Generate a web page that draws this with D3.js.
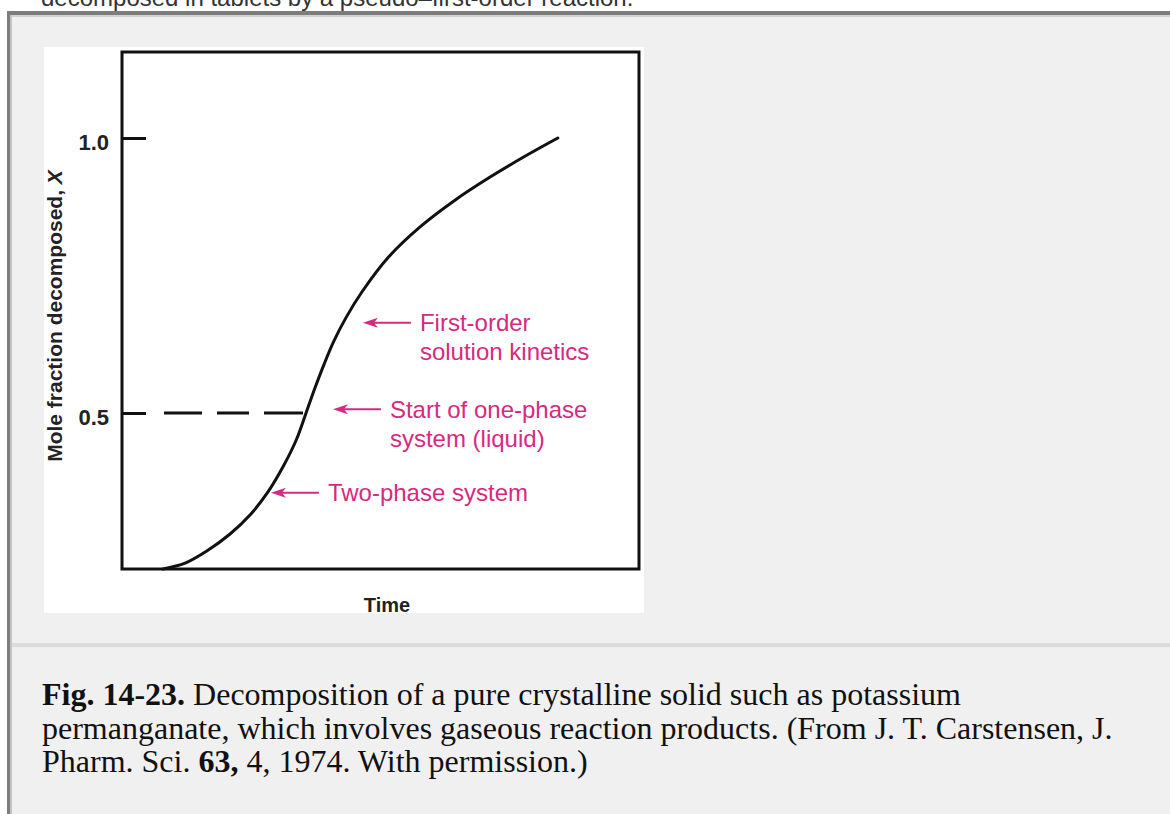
<!DOCTYPE html>
<html>
<head>
<meta charset="utf-8">
<script src="https://cdn.jsdelivr.net/npm/d3@7"></script>
<style>
  html, body { margin: 0; padding: 0; background: #ffffff; }
  svg { display: block; }
</style>
</head>
<body>
<svg id="page" width="1170" height="814"></svg>
<script>
// ---- data ----------------------------------------------------------------
// S-shaped decomposition curve: time (arbitrary units) vs mole fraction decomposed
const timeValues     = [7.9, 12.2, 16.4, 20.9, 24.8, 28.2, 31.3, 33.7, 35.6, 37.3, 39.1, 41.0, 43.3, 46.4, 51.6, 57.6, 64.4, 71.2, 77.6, 84.3];
const fractionValues = [0.2164, 0.227, 0.249, 0.280, 0.315, 0.356, 0.405, 0.451, 0.500, 0.545, 0.589, 0.631, 0.673, 0.720, 0.784, 0.838, 0.887, 0.929, 0.965, 1.000];

const yTickValues = [0.5, 1.0];
const yTickLabels = ["0.5", "1.0"];
const phaseBoundary = 0.5;   // dashed reference level

const noteLines = [["First-order", "solution kinetics"], ["Start of one-phase", "system (liquid)"], ["Two-phase system"]];
const noteTimes = [46.6, 40.8, 28.8];
const noteFractions = [0.664, 0.507, 0.355];

const xTitle = "Time";
const yTitle = "Mole fraction decomposed, ";
const yTitleVar = "X";

const headerText = "decomposed in tablets by a pseudo\u2013first-order reaction.";
const captionLines = [
  [{t: "Fig. 14-23.", b: true}, {t: " Decomposition of a pure crystalline solid such as potassium"}],
  [{t: "permanganate, which involves gaseous reaction products. (From J. T. Carstensen, J."}],
  [{t: "Pharm. Sci. "}, {t: "63,", b: true}, {t: " 4, 1974. With permission.)"}]
];

// ---- page frame ------------------------------------------------------------
const svg = d3.select("#page");
const W = 1170, H = 814;

svg.append("text")
  .attr("x", 41).attr("y", 6)
  .attr("font-family", "Liberation Sans, Arial, sans-serif")
  .attr("font-size", 24).attr("fill", "#333")
  .text(headerText);

// table body
svg.append("rect").attr("x", 7).attr("y", 11).attr("width", W - 7).attr("height", H - 11).attr("fill", "#f0f0f0");
svg.append("rect").attr("x", 7).attr("y", 11).attr("width", W - 7).attr("height", 4).attr("fill", "#7d7d7d");
svg.append("rect").attr("x", 10).attr("y", 15).attr("width", W - 10).attr("height", 2).attr("fill", "#d2d2d2");
svg.append("rect").attr("x", 7).attr("y", 11).attr("width", 3).attr("height", H - 11).attr("fill", "#7d7d7d");
svg.append("rect").attr("x", 10).attr("y", 15).attr("width", 2).attr("height", H - 15).attr("fill", "#c4c4c4");
// row separator
svg.append("rect").attr("x", 12).attr("y", 643).attr("width", W - 12).attr("height", 4).attr("fill", "#dcdcdc");

// figure (white image area)
svg.append("rect").attr("x", 44).attr("y", 47).attr("width", 600).attr("height", 566).attr("fill", "#ffffff");

// ---- chart ----------------------------------------------------------------
const plot = {left: 122, right: 639, top: 52, bottom: 569};
const x = d3.scaleLinear().domain([0, 100]).range([plot.left, plot.right]);
const y = d3.scaleLinear().domain([0.2164, 1.1564]).range([plot.bottom, plot.top]);

const g = svg.append("g");

// frame
g.append("rect")
  .attr("x", plot.left).attr("y", plot.top)
  .attr("width", plot.right - plot.left).attr("height", plot.bottom - plot.top)
  .attr("fill", "none").attr("stroke", "#111").attr("stroke-width", 3);

// y axis: inward ticks, labels outside
const yAxis = d3.axisRight(y).tickValues(yTickValues).tickSize(24)
  .tickFormat((d, i) => yTickLabels[i]);
const axisG = g.append("g").attr("transform", `translate(${plot.left},0)`).call(yAxis);
axisG.select(".domain").remove();
axisG.selectAll(".tick line").attr("stroke", "#111").attr("stroke-width", 3);
axisG.selectAll(".tick text")
  .attr("x", -13).attr("dy", null).attr("y", 11)
  .attr("text-anchor", "end")
  .attr("font-family", "Liberation Sans, Arial, sans-serif")
  .attr("font-weight", "bold").attr("font-size", 22).attr("fill", "#222");

// curve
const pts = timeValues.map((t, i) => [t, fractionValues[i]]);
const line = d3.line().x(d => x(d[0])).y(d => y(d[1])).curve(d3.curveCatmullRom.alpha(0.5));
g.append("path").datum(pts)
  .attr("d", line)
  .attr("fill", "none").attr("stroke", "#111").attr("stroke-width", 3)
  .attr("stroke-linecap", "round");

// dashed level at the phase boundary, from the tick to the curve
const crossIdx = fractionValues.indexOf(phaseBoundary);
const crossT = timeValues[crossIdx];
g.append("line")
  .attr("x1", plot.left + 24).attr("x2", x(crossT) - 3)
  .attr("y1", y(phaseBoundary)).attr("y2", y(phaseBoundary))
  .attr("stroke", "#111").attr("stroke-width", 3)
  .attr("stroke-dasharray", "0 18 38 15 32 15 60");

// annotations
const pink = "#d62a80";
noteLines.forEach((lines, i) => {
  const tx = x(noteTimes[i]), ty = y(noteFractions[i]);
  g.append("line")
    .attr("x1", tx + 10).attr("x2", tx + 48)
    .attr("y1", ty).attr("y2", ty)
    .attr("stroke", pink).attr("stroke-width", 2);
  g.append("path")
    .attr("d", `M${tx},${ty} L${tx + 15},${ty - 5} L${tx + 11},${ty} L${tx + 15},${ty + 5} Z`)
    .attr("fill", pink);
  const txt = g.append("text")
    .attr("font-family", "Liberation Sans, Arial, sans-serif")
    .attr("font-size", 24).attr("fill", pink);
  lines.forEach((s, j) => {
    txt.append("tspan").attr("x", tx + 57).attr("y", ty + 8.5 + j * 29).text(s);
  });
});

// axis titles
g.append("text")
  .attr("x", 387).attr("y", 612)
  .attr("text-anchor", "middle")
  .attr("font-family", "Liberation Sans, Arial, sans-serif")
  .attr("font-weight", "bold").attr("font-size", 20).attr("fill", "#222")
  .text(xTitle);

const yt = g.append("text")
  .attr("transform", "translate(62,316) rotate(-90)")
  .attr("text-anchor", "middle")
  .attr("font-family", "Liberation Sans, Arial, sans-serif")
  .attr("font-weight", "bold").attr("font-size", 21).attr("fill", "#222");
yt.append("tspan").text(yTitle);
yt.append("tspan").attr("font-style", "italic").text(yTitleVar);

// ---- caption ----------------------------------------------------------------
const cap = svg.append("text")
  .attr("font-family", "Liberation Serif, 'Times New Roman', serif")
  .attr("font-size", 32).attr("fill", "#111");
const capBaselines = [705, 739, 772];
captionLines.forEach((parts, i) => {
  parts.forEach((p, j) => {
    const ts = cap.append("tspan").text(p.t);
    if (j === 0) ts.attr("x", 42).attr("y", capBaselines[i]);
    if (p.b) ts.attr("font-weight", "bold");
  });
});
</script>
</body>
</html>
